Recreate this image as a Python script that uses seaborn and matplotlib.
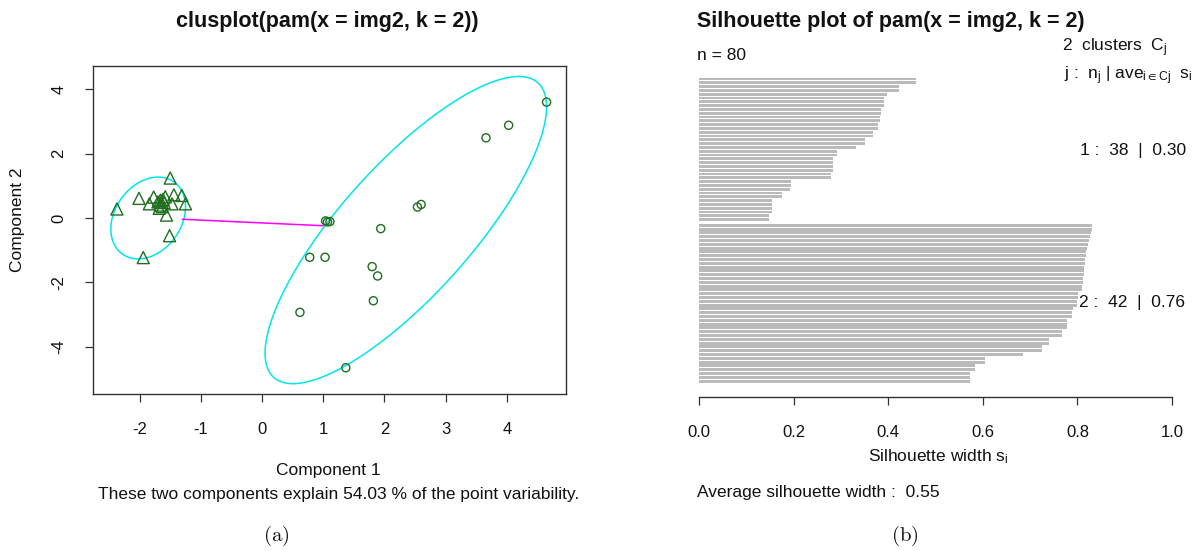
import numpy as np
import pandas as pd
import matplotlib
matplotlib.use("Agg")
import matplotlib.pyplot as plt
import seaborn as sns

# ---------------- data ----------------
# clusplot: cluster 1 (triangles)
tri_x = [-1.50, -2.01, -2.37, -1.77, -1.84, -1.70, -1.66, -1.62, -1.58, -1.44,
         -1.31, -1.25, -1.47, -1.56, -1.51, -1.94, -1.63, -1.68, -1.60, -1.66]
tri_y = [1.24, 0.61, 0.28, 0.65, 0.44, 0.50, 0.40, 0.58, 0.66, 0.72,
         0.70, 0.44, 0.44, 0.09, -0.55, -1.23, 0.35, 0.30, 0.48, 0.55]
# clusplot: cluster 2 (circles)
circ_x = [4.65, 4.03, 3.66, 2.54, 2.60, 1.94, 1.04, 1.07, 1.11, 0.78,
          1.03, 1.80, 1.89, 1.82, 0.62, 1.37]
circ_y = [3.60, 2.88, 2.49, 0.34, 0.42, -0.33, -0.09, -0.12, -0.11, -1.22,
          -1.22, -1.51, -1.80, -2.57, -2.93, -4.65]
# cluster ellipses: x = cx + hx*cos(t), y = cy + hy*cos(t - phase)
ell_cx = [-1.86, 2.35]
ell_cy = [0.00, -0.375]
ell_hx = [0.61, 2.30]
ell_hy = [1.27, 4.77]
ell_phase = [1.30, 0.64]
# line between the clusters
link_x = [-1.30, 1.00]
link_y = [-0.04, -0.24]
clus_xticks = [-2, -1, 0, 1, 2, 3, 4]
clus_yticks = [-4, -2, 0, 2, 4]

# silhouette widths (sorted within clusters, top to bottom)
sil_c1 = [0.458, 0.458, 0.422, 0.422, 0.398, 0.391, 0.391, 0.391, 0.384, 0.384,
          0.382, 0.382, 0.379, 0.379, 0.367, 0.367, 0.352, 0.352, 0.331, 0.292,
          0.292, 0.284, 0.284, 0.284, 0.284, 0.279, 0.279, 0.194, 0.194, 0.192,
          0.176, 0.176, 0.154, 0.154, 0.154, 0.154, 0.147, 0.147]
sil_c2 = [0.831, 0.831, 0.829, 0.827, 0.825, 0.822, 0.820, 0.819, 0.818, 0.817,
          0.816, 0.815, 0.814, 0.813, 0.812, 0.811, 0.810, 0.809, 0.801, 0.801,
          0.800, 0.800, 0.790, 0.788, 0.788, 0.777, 0.777, 0.777, 0.768, 0.768,
          0.741, 0.741, 0.726, 0.726, 0.686, 0.605, 0.605, 0.583, 0.583, 0.573,
          0.573, 0.573]
sil_ticks = [0.0, 0.2, 0.4, 0.6, 0.8, 1.0]
sil_ticklabels = ["0.0", "0.2", "0.4", "0.6", "0.8", "1.0"]

# ---------------- figure ----------------
sns.set_theme(style="white")
plt.rcParams["font.family"] = ["Liberation Sans", "DejaVu Sans"]
plt.rcParams["mathtext.fontset"] = "cm"

W, H = 1198, 551
fig = plt.figure(figsize=(W / 100, H / 100), dpi=100)
fig.patch.set_facecolor("white")

def fx(px):
    return px / W

def fy(py):
    return 1 - py / H

TXT = "#111111"
FS = 12.5
TFS = 15.5

# ---------- left: clusplot ----------
L, R, T, B = 93, 566, 66, 394
ax1 = fig.add_axes([fx(L), fy(B), (R - L) / W, (B - T) / H])
x0, xs = 262.0, 61.2
y0, ys = 218.0, 32.2
ax1.set_xlim((L - x0) / xs, (R - x0) / xs)
ax1.set_ylim((y0 - B) / ys, (y0 - T) / ys)

t = np.linspace(0, 2 * np.pi, 300)
for cx, cy, hx, hy, ph in zip(ell_cx, ell_cy, ell_hx, ell_hy, ell_phase):
    ax1.plot(cx + hx * np.cos(t), cy + hy * np.cos(t - ph), color="#00e5ee", lw=1.1, zorder=2)
ax1.plot(link_x, link_y, color="#ff00ff", lw=1.1, zorder=2)

green = "#1e6e1e"
tri_df = pd.DataFrame({"x": tri_x, "y": tri_y})
circ_df = pd.DataFrame({"x": circ_x, "y": circ_y})
sns.scatterplot(data=tri_df, x="x", y="y", marker="^", s=75, linewidth=1.0,
                edgecolor=green, ax=ax1, zorder=3)
ax1.collections[-1].set_facecolor("none")
sns.scatterplot(data=circ_df, x="x", y="y", marker="o", s=34, linewidth=1.0,
                edgecolor=green, ax=ax1, zorder=3)
ax1.collections[-1].set_facecolor("none")

ax1.set_xlabel("")
ax1.set_ylabel("")
ax1.set_xticks(clus_xticks)
ax1.set_yticks(clus_yticks)
ax1.set_xticklabels([str(v) for v in clus_xticks])
ax1.set_yticklabels([str(v) for v in clus_yticks], rotation=90, va="center")
ax1.tick_params(axis="both", direction="out", length=6, width=0.9, color="#333333",
                labelsize=12, labelcolor=TXT, bottom=True, left=True)
ax1.tick_params(axis="x", pad=14)
ax1.tick_params(axis="y", pad=13)
for s in ax1.spines.values():
    s.set_visible(True)
    s.set_color("#333333")
    s.set_linewidth(1.0)

fig.text(fx(327), fy(22), "clusplot(pam(x = img2, k = 2))", ha="center", va="center",
         fontsize=TFS, fontweight="bold", color=TXT)
fig.text(fx(328), fy(470), "Component 1", ha="center", va="center", fontsize=FS, color=TXT)
fig.text(fx(18), fy(220), "Component 2", ha="center", va="center", fontsize=FS,
         rotation=90, color=TXT)
fig.text(fx(339), fy(494), "These two components explain 54.03 % of the point variability.",
         ha="center", va="center", fontsize=FS, color=TXT)
fig.text(fx(276), fy(536), r"$\mathrm{(a)}$", ha="center", va="center", fontsize=15, color=TXT)

# ---------- right: silhouette ----------
SL, SR, ST, SB = 699, 1172, 66, 397
ax2 = fig.add_axes([fx(SL), fy(SB), (SR - SL) / W, (SB - ST) / H])
pitch, top_c = 3.8, 79.0
pos = list(np.arange(len(sil_c1), dtype=float)) + list(len(sil_c1) + 0.5 + np.arange(len(sil_c2)))
sil_df = pd.DataFrame({"width": sil_c1 + sil_c2, "pos": pos})
sns.barplot(data=sil_df, x="width", y="pos", orient="h", native_scale=True,
            color="#bababa", saturation=1, width=0.75, errorbar=None, linewidth=0, ax=ax2)
ax2.set_xlim(0, 1)
ax2.set_ylim((SB - top_c) / pitch, (ST - top_c) / pitch)
ax2.set_xlabel("")
ax2.set_ylabel("")
ax2.set_yticks([])
for k in ["left", "top", "right"]:
    ax2.spines[k].set_visible(False)
ax2.spines["bottom"].set_visible(True)
ax2.spines["bottom"].set_color("#333333")
ax2.spines["bottom"].set_linewidth(1.0)
ax2.set_xticks(sil_ticks)
ax2.set_xticklabels(sil_ticklabels)
ax2.tick_params(axis="x", direction="out", length=6, width=0.9, color="#333333",
                labelsize=12, labelcolor=TXT, pad=14, bottom=True)

fig.text(fx(697), fy(22), "Silhouette plot of pam(x = img2, k = 2)", ha="left", va="center",
         fontsize=TFS, fontweight="bold", color=TXT)
fig.text(fx(697), fy(55), "n = 80", ha="left", va="center", fontsize=FS, color=TXT)
fig.text(fx(1062), fy(48), r"2  clusters  C$\mathregular{_j}$", ha="left", va="center",
         fontsize=FS, color=TXT)
fig.text(fx(1064), fy(76), r"j :  n$\mathregular{_j}$ | ave$\mathregular{_{i\in Cj}}$  s$\mathregular{_i}$",
         ha="left", va="center", fontsize=FS, color=TXT)
fig.text(fx(1080), fy(150), "1 :  38  |  0.30", ha="left", va="center", fontsize=FS, color=TXT)
fig.text(fx(1079), fy(303), "2 :  42  |  0.76", ha="left", va="center", fontsize=FS, color=TXT)
fig.text(fx(938), fy(457), r"Silhouette width s$\mathregular{_i}$", ha="center", va="center",
         fontsize=FS, color=TXT)
fig.text(fx(697), fy(493), "Average silhouette width :  0.55", ha="left", va="center",
         fontsize=FS, color=TXT)
fig.text(fx(905), fy(536), r"$\mathrm{(b)}$", ha="center", va="center", fontsize=15, color=TXT)

fig.savefig("out.png", dpi=100, facecolor="white")
